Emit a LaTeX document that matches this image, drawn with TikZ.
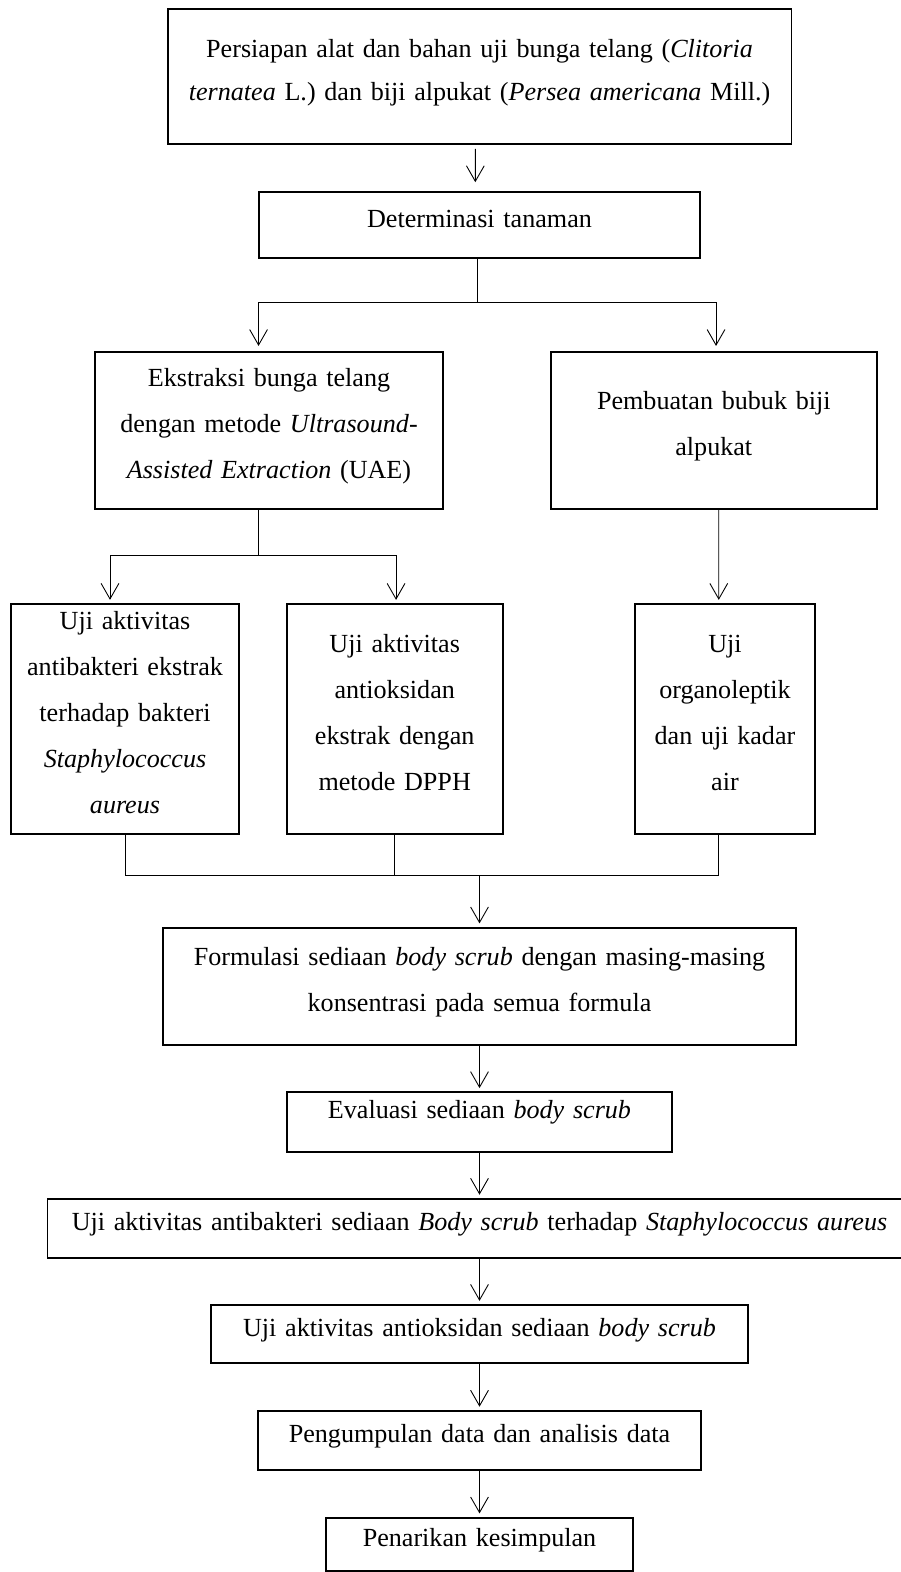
\documentclass[tikz,border=0pt]{standalone}
\usepackage{fontspec}
\setmainfont{Liberation Serif}
\usetikzlibrary{arrows.meta}

\begin{document}
\begin{tikzpicture}[x=0.45pt, y=-0.45pt,
    font=\fontsize{11.75}{20.7}\selectfont,
    box/.style 2 args={draw, line width=0.8pt, align=center, inner sep=2pt,
      text width=#1-4pt, minimum height=#2,
      execute at begin node={\rule{0pt}{9pt}},
      execute at end node={\rule[-7pt]{0pt}{7pt}}},
    link/.style={line width=0.4pt},
    arrow/.style={link, -{Straight Barb[length=7pt, width=8pt]}, shorten >=1.5pt}]
  \useasboundingbox (0,0) rectangle (901,1572);

  % boxes
  \node[box={280.7pt}{60.8pt}, font=\fontsize{11.75}{19.4}\selectfont] (persiapan) at (479.6,76.5)
    {Persiapan alat dan bahan uji bunga telang (\textit{Clitoria}\\ \textit{ternatea} L.) dan biji alpukat (\textit{Persea americana} Mill.)};
  \node[box={198.5pt}{29.7pt}] (det) at (479.5,225) {Determinasi tanaman};
  \node[box={156.9pt}{70.9pt}] (eks) at (269,430.5)
    {Ekstraksi bunga telang\\ dengan metode \textit{Ultrasound}-\\ \textit{Assisted Extraction} (UAE)};
  \node[box={146.8pt}{70.9pt}] (pem) at (713.8,430.5) {Pembuatan bubuk biji\\ alpukat};
  \node[box={102.6pt}{103.6pt}] (ujibak) at (125,719.2)
    {Uji aktivitas\\ antibakteri ekstrak\\ terhadap bakteri\\ \textit{Staphylococcus}\\ \textit{aureus}};
  \node[box={97.2pt}{103.6pt}] (ujiok) at (394.7,719.2)
    {Uji aktivitas\\ antioksidan\\ ekstrak dengan\\ metode DPPH};
  \node[box={81pt}{103.6pt}] (org) at (725,719.2) {Uji\\ organoleptik\\ dan uji kadar\\ air};
  \node[box={285pt}{52.8pt}] (form) at (479.5,986.3)
    {Formulasi sediaan \textit{body scrub} dengan masing-masing\\ konsentrasi pada semua formula};
  \node[box={173.4pt}{26.7pt}, execute at end node={\rule[-12.4pt]{0pt}{12.4pt}}] (eval) at (479.5,1122)
    {Evaluasi sediaan \textit{body scrub}};
  \node[box={388.8pt}{26.4pt}] (sedbak) at (479.5,1228.3)
    {Uji aktivitas antibakteri sediaan \textit{Body scrub} terhadap \textit{Staphylococcus aureus}};
  \node[box={241.9pt}{26.2pt}] (sedok) at (479.5,1334.2) {Uji aktivitas antioksidan sediaan \textit{body scrub}};
  \node[box={199.1pt}{26.6pt}] (kumpul) at (479.5,1440.5) {Pengumpulan data dan analisis data};
  \node[box={138.2pt}{24pt}] (tarik) at (479.5,1544.3) {Penarikan kesimpulan};

  % junctions
  \coordinate (split1) at (477.3,302.3);
  \coordinate (split2) at (258.7,555.7);
  \coordinate (merge)  at (479.5,875.7);

  % connectors
  \draw[arrow, shorten <=1.8pt, shorten >=4pt] ([xshift=-1.9pt]persiapan.south) -- ([xshift=-1.9pt]det.north);
  \draw[link] (det.south -| split1) -- (split1);
  \draw[arrow, shorten >=2.2pt] (split1) -| ([xshift=-4.7pt]eks.north);
  \draw[arrow, shorten >=2.2pt] (split1) -| ([xshift=1pt]pem.north);
  \draw[link] (eks.south -| split2) -- (split2);
  \draw[arrow] (split2) -| ([xshift=-6.75pt]ujibak.north);
  \draw[arrow] (split2) -| ([xshift=0.6pt]ujiok.north);
  \draw[arrow] ([xshift=2.2pt]pem.south) -- ([xshift=-2.8pt]org.north);
  \draw[link] (ujibak.south) |- (merge);
  \draw[link] (ujiok.south) |- (merge);
  \draw[link] ([xshift=-2.8pt]org.south) |- (merge);
  \draw[arrow] (merge) -- (form.north);
  \draw[arrow] (form) -- (eval);
  \draw[arrow] (eval) -- (sedbak);
  \draw[arrow] (sedbak) -- (sedok);
  \draw[arrow] (sedok) -- (kumpul);
  \draw[arrow] (kumpul) -- (tarik);
\end{tikzpicture}
\end{document}
